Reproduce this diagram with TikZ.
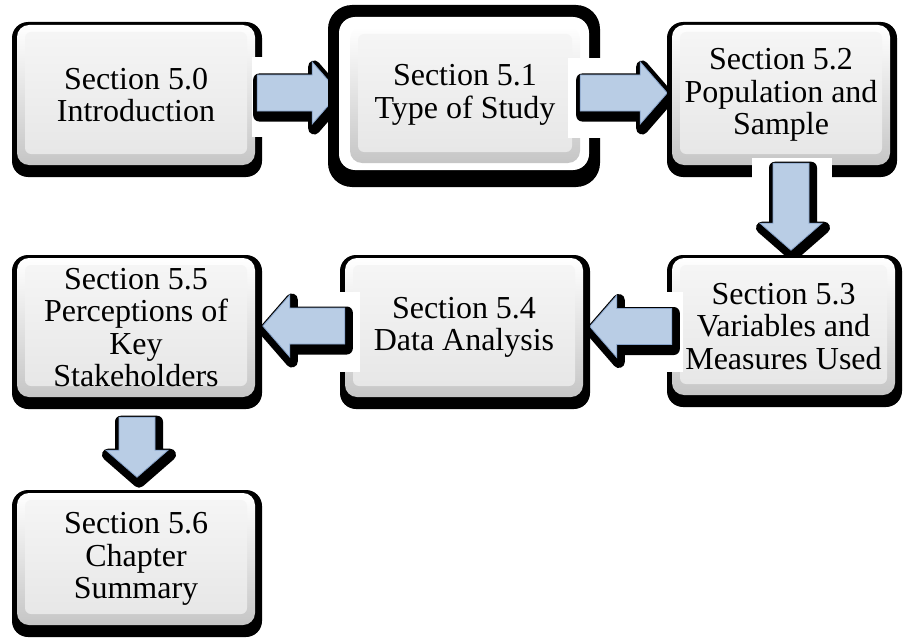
\documentclass[tikz,border=0pt]{standalone}
\usepackage{fontspec}
\setmainfont{Liberation Serif}
\usetikzlibrary{calc}

\definecolor{arrowblue}{RGB}{185,205,229}
\definecolor{arrowedge}{RGB}{135,163,202}

\tikzset{
  secbox/.style={rounded corners=12pt, inner sep=0pt, align=center,
    font=\fontsize{32}{32.5}\selectfont,
    top color=white, bottom color=gray!45,
    path picture={\shade[top color=gray!7, bottom color=gray!20, rounded corners=6pt]
      ([xshift=8pt,yshift=-7pt]path picture bounding box.north west) rectangle
      ([xshift=-8pt,yshift=11pt]path picture bounding box.south east);}},
  gap/.style={fill=white},
  arrowshadow/.style={fill=black, draw=black, line width=12pt, line join=round},
  arrowface/.style={fill=arrowblue, draw=arrowedge, line width=0.8pt},
}

% section box with its dark drop shadow: name, x, y, width, height, text
\newcommand\secnode[6]{%
  \fill[black, rounded corners=16pt] ({#2-#4/2-5},{#3-#5/2-3}) rectangle ({#2+#4/2+7},{#3+#5/2+12});
  \node[secbox, minimum width=#4, minimum height=#5] (#1) at (#2,#3) {#6};
}

% fat block arrow starting at a named tail coordinate: tail, rotation, length
\newcommand\blockarrow[3]{%
  \begin{scope}[shift={(#1)}]
    \begin{scope}[shift={(2,4.5)}, rotate=#2]
      \path[arrowshadow] (0,-18) -- ({#3-27},-18) -- ({#3-27},-31) -- (#3,0)
        -- ({#3-27},31) -- ({#3-27},18) -- (0,18) -- cycle;
    \end{scope}
    \begin{scope}[rotate=#2]
      \path[arrowface] (0,-18) -- ({#3-27},-18) -- ({#3-27},-31) -- (#3,0)
        -- ({#3-27},31) -- ({#3-27},18) -- (0,18) -- cycle;
    \end{scope}
  \end{scope}
}

\begin{document}
\begin{tikzpicture}[x=1pt, y=-1pt]
\useasboundingbox[fill=white] (0,0) rectangle (908,642);

% Section 5.0
\secnode{b0}{136}{95}{238}{140}{Section 5.0\\Introduction}
\coordinate (t1) at ($(b0.east)+(2,-2)$);
\fill[gap] (252,57) rectangle (327,137);
\blockarrow{t1}{0}{82}

% Section 5.1, framed by a heavy black ring
\fill[black, rounded corners=24pt] (328,5) rectangle (600,187);
\fill[white, rounded corners=16pt] (339,17) rectangle (589,170);
\node[secbox, minimum width=230, minimum height=136] (b1) at (465,95) {Section 5.1\\Type of Study};
\coordinate (t2) at ($(b1.east)+(0,-2)$);
\fill[gap] (568,58) rectangle (663,138);
\blockarrow{t2}{0}{87}

% Section 5.2
\secnode{b2}{781}{95}{218}{140}{Section 5.2\\Population and\\Sample}
\coordinate (t3) at ($(b2.south)+(10,-2)$);
\fill[gap] (752,158) rectangle (832,252);
\blockarrow{t3}{-90}{87}

% Section 5.3
\secnode{b3}{783.5}{326.5}{223}{137}{Section 5.3\\Variables and\\Measures Used}
\coordinate (t4) at (b3.west);
\fill[gap] (590,292) rectangle (683,372);
\blockarrow{t4}{180}{82}

% Section 5.4
\secnode{b4}{464}{327.5}{238}{139}{Section 5.4\\Data Analysis}
\coordinate (t5) at ($(b4.west)+(0,-1.5)$);
\fill[gap] (262,292) rectangle (360,372);
\blockarrow{t5}{180}{82}

% Section 5.5
\secnode{b5}{136}{327.5}{238}{139}{Section 5.5\\Perceptions of\\Key\\Stakeholders}
\coordinate (t6) at ($(b5.south)+(1,20)$);
\blockarrow{t6}{-90}{60}

% Section 5.6
\secnode{b6}{136}{559}{238}{132}{Section 5.6\\Chapter\\Summary}
\end{tikzpicture}
\end{document}
